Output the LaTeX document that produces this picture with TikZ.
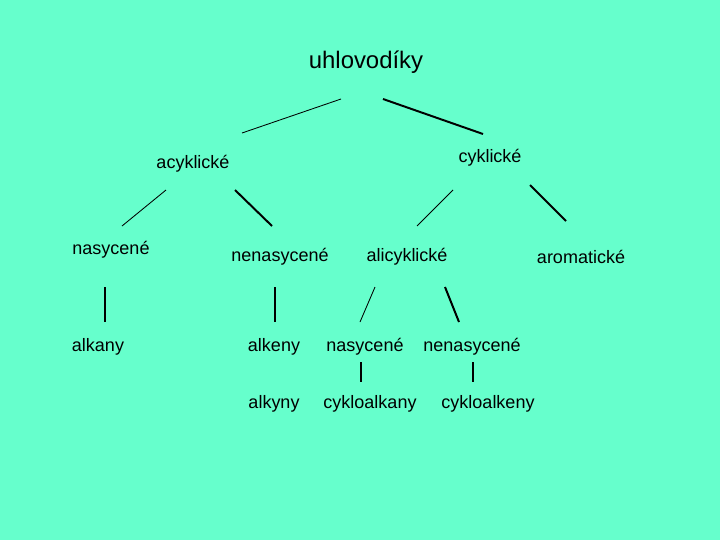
\documentclass[tikz,border=0pt]{standalone}
\usepackage{fontspec}
\setmainfont{Liberation Sans}
\definecolor{bg}{HTML}{66FFCC}
\tikzset{lbl/.style={font=\fontsize{12.8}{14}\selectfont, inner sep=0pt},
  thin line/.style={black, line width=0.6pt},
  thick line/.style={black, line width=1.4pt}}

\begin{document}
\begin{tikzpicture}[x=0.025cm, y=-0.025cm]
\fill[bg] (0,0) rectangle (720,540);
\useasboundingbox (0,0) rectangle (720,540);

\node[lbl, font=\fontsize{17}{20}\selectfont] (uhl) at (366,62) {uhlovodíky};
\node[lbl] (acyk) at (193,164) {acyklické};
\node[lbl] (cyk) at (490,158) {cyklické};
\node[lbl] (nas) at (111,250) {nasycené};
\node[lbl] (nenas) at (280,257) {nenasycené};
\node[lbl] (alic) at (407,257) {alicyklické};
\node[lbl] (arom) at (581,257) {aromatické};
\node[lbl] (alkany) at (98,347) {alkany};
\node[lbl] (alkeny) at (274,347) {alkeny};
\node[lbl] (alnas) at (365,347) {nasycené};
\node[lbl] (alnenas) at (472,347) {nenasycené};
\node[lbl] (alkyny) at (274,404) {alkyny};
\node[lbl] (cykany) at (370,404) {cykloalkany};
\node[lbl] (cykeny) at (488,404) {cykloalkeny};

\coordinate (a1) at (242,133); \coordinate (a2) at (341,99);
\coordinate (b1) at (383,99);  \coordinate (b2) at (483,134);
\coordinate (c1) at (122,226); \coordinate (c2) at (166,190);
\coordinate (d1) at (235,190); \coordinate (d2) at (272,226);
\coordinate (e1) at (417,226); \coordinate (e2) at (453,190);
\coordinate (f1) at (530,185); \coordinate (f2) at (566,221);
\coordinate (g1) at (105,287); \coordinate (g2) at (105,322);
\coordinate (h1) at (275,287); \coordinate (h2) at (275,322);
\coordinate (i1) at (360,322); \coordinate (i2) at (375,287);
\coordinate (j1) at (445,287); \coordinate (j2) at (459,322);
\coordinate (k1) at (361,362); \coordinate (k2) at (361,382);
\coordinate (l1) at (473,362); \coordinate (l2) at (473,382);

\draw[thin line] (a1) -- (a2);
\draw[thick line] (b1) -- (b2);
\draw[thin line] (c1) -- (c2);
\draw[thick line] (d1) -- (d2);
\draw[thin line] (e1) -- (e2);
\draw[thick line] (f1) -- (f2);
\draw[thick line] (g1) -- (g2);
\draw[thick line] (h1) -- (h2);
\draw[thin line] (i1) -- (i2);
\draw[thick line] (j1) -- (j2);
\draw[thick line] (k1) -- (k2);
\draw[thick line] (l1) -- (l2);
\end{tikzpicture}
\end{document}
